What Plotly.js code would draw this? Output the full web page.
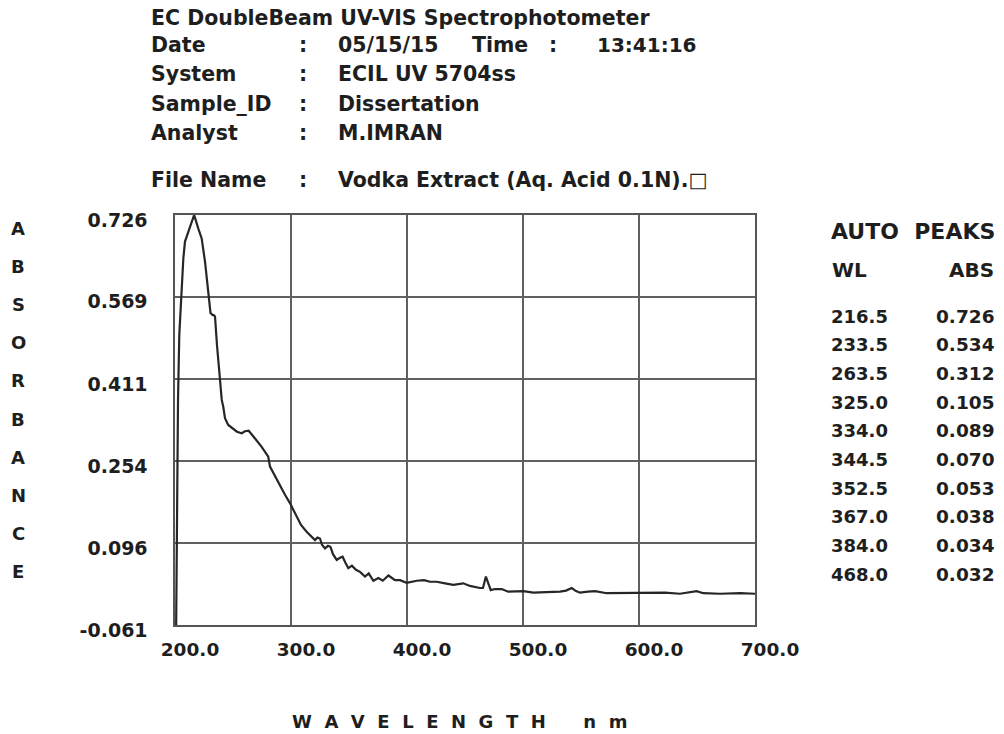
<!DOCTYPE html>
<html><head><meta charset="utf-8">
<script src="https://cdn.plot.ly/plotly-3.0.1.min.js"></script>
<style>html,body{margin:0;padding:0;background:#fff}#chart{width:1004px;height:734px}</style>
</head><body><div id="chart"></div>
<script>
const wavelength = [201.0,201.7,202.6,203.7,204.9,206.0,207.2,208.6,211.5,214.4,216.5,220.1,223.0,225.9,227.8,229.6,230.6,232.5,233.5,234.5,235.3,236.2,237.3,238.8,240.3,241.6,243.1,245.9,250.3,253.4,257.5,260.3,263.5,267.5,269.0,274.7,280.4,281.9,286.2,290.5,294.8,299.1,304.9,308.6,313.5,318.1,320.7,322.8,325.0,326.7,329.3,331.9,334.0,336.2,339.4,342.2,344.5,346.6,349.4,352.5,356.0,359.5,363.8,367.0,371.0,375.3,379.1,384.0,389.7,394.0,399.7,408.4,414.7,419.8,425.6,432.8,439.9,448.5,454.3,462.9,465.5,468.0,472.2,475.9,481.6,487.3,491.6,497.4,500.3,508.9,519.0,531.9,537.1,542.0,545.7,549.1,556.0,562.1,572.2,583.6,600.9,612.3,622.4,635.3,649.7,655.4,669.8,687.1,698.5,700.0];
const absorbance = [-0.061,0.217,0.371,0.496,0.553,0.598,0.643,0.675,0.694,0.710,0.726,0.700,0.681,0.636,0.598,0.560,0.538,0.534,0.534,0.531,0.496,0.476,0.448,0.409,0.371,0.358,0.336,0.323,0.315,0.310,0.307,0.311,0.312,0.300,0.297,0.281,0.262,0.243,0.225,0.205,0.189,0.173,0.147,0.131,0.118,0.108,0.102,0.107,0.105,0.093,0.086,0.091,0.089,0.075,0.064,0.068,0.070,0.060,0.048,0.053,0.045,0.041,0.032,0.038,0.024,0.029,0.024,0.034,0.025,0.025,0.020,0.024,0.025,0.022,0.022,0.019,0.016,0.019,0.014,0.010,0.010,0.032,0.006,0.008,0.008,0.003,0.003,0.003,0.004,0.001,0.002,0.003,0.005,0.010,0.004,0.001,0.003,0.004,0.000,0.000,0.000,0.001,0.001,-0.001,0.004,0.000,-0.001,0.000,0.000,-0.001];

const xTickVals = [200,300,400,500,600,700];
const xTickText = ['200.0','300.0','400.0','500.0','600.0','700.0'];
const yTickVals = [0.726,0.569,0.411,0.254,0.096,-0.061];
const yTickText = ['0.726','0.569','0.411','0.254','0.096','-0.061'];

const peakWL = ['216.5','233.5','263.5','325.0','334.0','344.5','352.5','367.0','384.0','468.0'];
const peakAbs = ['0.726','0.534','0.312','0.105','0.089','0.070','0.053','0.038','0.034','0.032'];

const chartTitle = 'EC DoubleBeam UV-VIS Spectrophotometer';
const headerLabels = ['Date','System','Sample_ID','Analyst','File Name'];
const headerValues = ['05/15/15','ECIL UV 5704ss','Dissertation','M.IMRAN','Vodka Extract (Aq. Acid 0.1N).\u25A1'];
const timeLabel = 'Time';
const timeValue = '13:41:16';
const yTitleLetters = 'ABSORBANCE';
const xTitleText = 'WAVELENGTH nm';
const peaksTitle = 'AUTO PEAKS';
const peaksColWL = 'WL';
const peaksColAbs = 'ABS';

// layout helpers: page pixel -> paper coords
const L = 175, R = 755, T = 215, B = 625;
const px = x => (x - L) / (R - L);
const py = y => (B - y) / (B - T);

const FAM = 'DejaVu Sans, Verdana, sans-serif';
const TXT = '#1e1e1e';
const f = (size) => ({family: FAM, size: size, color: TXT, weight: 700});
const NB = '\u00a0';
const spaced = (s, gap) => s.split('').join(NB.repeat(gap));

const ann = [];
function add(text, x, y, size, xanchor) {
  ann.push({text: text, xref: 'paper', yref: 'paper', x: px(x), y: py(y),
    xanchor: xanchor || 'left', yanchor: 'middle', showarrow: false, font: f(size)});
}
const HS = 20.5;
add(chartTitle, 149, 18, HS);
const hdrY = [45, 74, 104, 133, 180];
headerLabels.forEach((t, i) => {
  add(t, 149, hdrY[i], HS);
  add(':', 303, hdrY[i], HS, 'center');
  add(headerValues[i], 336, hdrY[i], HS);
});
add(timeLabel, 470, hdrY[0], HS);
add(':', 553, hdrY[0], HS, 'center');
add(timeValue, 595, hdrY[0], 20);

yTitleLetters.split('').forEach((c, i) => add(c, 18, 228 + i * 38.2, 18, 'center'));
const xt = xTitleText.split(' ');
add(spaced(xt[0], 2) + NB.repeat(6) + spaced(xt[1], 2), 459, 721, 18, 'center');

const pt = peaksTitle.split(' ');
add(pt[0] + NB.repeat(2) + pt[1], 829, 231, 22);
add(peaksColWL, 830, 270, 20);
add(peaksColAbs, 996, 270, 20, 'right');
peakWL.forEach((w, i) => {
  add(w, 829, 316 + i * 28.7, 18);
  add(peakAbs[i], 997, 316 + i * 28.7, 18.5, 'right');
});

const axisCommon = {
  showgrid: true, gridcolor: '#606060', gridwidth: 1.5,
  showline: true, mirror: true, linecolor: '#555555', linewidth: 1.6,
  zeroline: false, ticks: '', fixedrange: true
};

const layout = {
  width: 1004, height: 734,
  margin: {l: L, r: 1004 - R, t: T, b: 734 - B, pad: 0},
  paper_bgcolor: '#ffffff', plot_bgcolor: '#ffffff',
  showlegend: false,
  xaxis: Object.assign({}, axisCommon, {
    range: [200, 700], tickmode: 'array', tickvals: xTickVals, ticktext: xTickText,
    tickfont: f(18.5), ticklabelshift: 15, ticklabelstandoff: 7
  }),
  yaxis: Object.assign({}, axisCommon, {
    range: [-0.061, 0.726], tickmode: 'array', tickvals: yTickVals, ticktext: yTickText,
    tickfont: f(19), ticklabelshift: 5, ticklabelstandoff: 22
  }),
  annotations: ann
};

const trace = {
  x: wavelength, y: absorbance, type: 'scatter', mode: 'lines',
  line: {color: '#262626', width: 2.2, shape: 'linear'},
  cliponaxis: true, hoverinfo: 'skip'
};

Plotly.newPlot('chart', [trace], layout, {staticPlot: true, displayModeBar: false});
</script>
</body></html>
